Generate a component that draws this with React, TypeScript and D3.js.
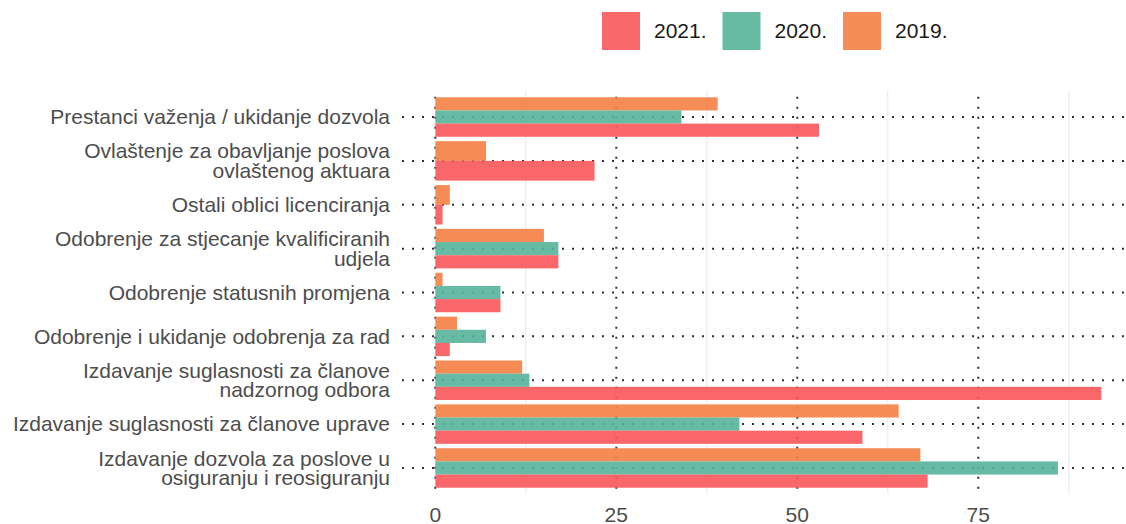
import React from "react";
import * as d3 from "d3";

const categories = [
  "Prestanci važenja / ukidanje dozvola",
  "Ovlaštenje za obavljanje poslova\novlaštenog aktuara",
  "Ostali oblici licenciranja",
  "Odobrenje za stjecanje kvalificiranih\nudjela",
  "Odobrenje statusnih promjena",
  "Odobrenje i ukidanje odobrenja za rad",
  "Izdavanje suglasnosti za članove\nnadzornog odbora",
  "Izdavanje suglasnosti za članove uprave",
  "Izdavanje dozvola za poslove u\nosiguranju i reosiguranju",
];

const seriesNames = ["2019.", "2020.", "2021."];
const legendOrder = ["2021.", "2020.", "2019."];
const values2019: (number | null)[] = [39, 7, 2, 15, 1, 3, 12, 64, 67];
const values2020: (number | null)[] = [34, null, null, 17, 9, 7, 13, 42, 86];
const values2021: (number | null)[] = [53, 22, 1, 17, 9, 2, 92, 59, 68];
const xTicks = [0, 25, 50, 75];
const xMinor = [12.5, 37.5, 62.5, 87.5];

const colors: Record<string, string> = {
  "2021.": "#F8575A",
  "2020.": "#56B39A",
  "2019.": "#F48044",
};
const legendColors: Record<string, string> = {
  "2021.": "#F9686B",
  "2020.": "#67BBA3",
  "2019.": "#F58D57",
};

const W = 1126;
const H = 524;
const panelLeft = 402;
const panelTop = 90.7;
const panelBottom = 494.3;
const dataMax = 92;
const expand = dataMax * 0.05;

export default function App() {
  const x = d3
    .scaleLinear()
    .domain([-expand, dataMax + expand])
    .range([panelLeft, panelLeft + (dataMax + 2 * expand) * 7.24]);
  const yBand = d3
    .scalePoint<string>()
    .domain(categories)
    .range([panelTop, panelBottom])
    .padding(0.6);
  const step = yBand.step();
  const groupW = step * 0.9;

  const seriesVals: Record<string, (number | null)[]> = {
    "2019.": values2019,
    "2020.": values2020,
    "2021.": values2021,
  };

  const bars: React.ReactNode[] = [];
  categories.forEach((c, i) => {
    const present = seriesNames.filter((s) => seriesVals[s][i] != null);
    const sub = d3
      .scaleBand<string>()
      .domain(present)
      .range([yBand(c)! - groupW / 2, yBand(c)! + groupW / 2]);
    present.forEach((s) => {
      const v = seriesVals[s][i] as number;
      bars.push(
        <rect
          key={c + s}
          x={x(0)}
          y={sub(s)}
          width={x(v) - x(0)}
          height={sub.bandwidth()}
          fill={colors[s]}
          fillOpacity={0.9}
        />
      );
    });
  });

  const font = "'Liberation Sans', Arial, sans-serif";
  const fs = 21;
  const dotted = { stroke: "#2B3341", strokeWidth: 2, strokeDasharray: "2 8" };

  return (
    <svg width={W} height={H} style={{ position: "absolute", left: 0, top: 0 }} fontFamily={font}>
      <rect width={W} height={H} fill="#fff" />
      {xMinor.map((t) => (
        <line key={"m" + t} x1={x(t)} x2={x(t)} y1={panelTop} y2={panelBottom} stroke="#EBEBEB" strokeWidth={1.2} />
      ))}
      {xTicks.map((t) => (
        <line key={"g" + t} x1={x(t)} x2={x(t)} y1={panelTop + 6} y2={panelBottom} {...dotted} />
      ))}
      {categories.map((c) => (
        <line key={"h" + c} x1={panelLeft} x2={W} y1={yBand(c)} y2={yBand(c)} {...dotted} />
      ))}
      {bars}
      {categories.map((c) => {
        const lines = c.split("\n");
        const lh = 19.5;
        const y0 = yBand(c)! - ((lines.length - 1) * lh) / 2;
        return (
          <text key={"t" + c} x={390} textAnchor="end" fontSize={fs} fill="#4D4D4D">
            {lines.map((l, k) => (
              <tspan key={k} x={390} y={y0 + k * lh} dy="0.35em">
                {l}
              </tspan>
            ))}
          </text>
        );
      })}
      {xTicks.map((t) => (
        <text key={"xt" + t} x={x(t)} y={514.5} dy="0.35em" textAnchor="middle" fontSize={fs} fill="#4D4D4D">
          {t}
        </text>
      ))}
      {legendOrder.map((s, i) => {
        const lx = 602 + i * 120.5;
        return (
          <g key={"lg" + s}>
            <rect x={lx} y={12} width={38} height={38} fill={legendColors[s]} />
            <text x={lx + 52} y={31} dy="0.35em" fontSize={fs} fill="#1A1A1A">
              {s}
            </text>
          </g>
        );
      })}
    </svg>
  );
}
